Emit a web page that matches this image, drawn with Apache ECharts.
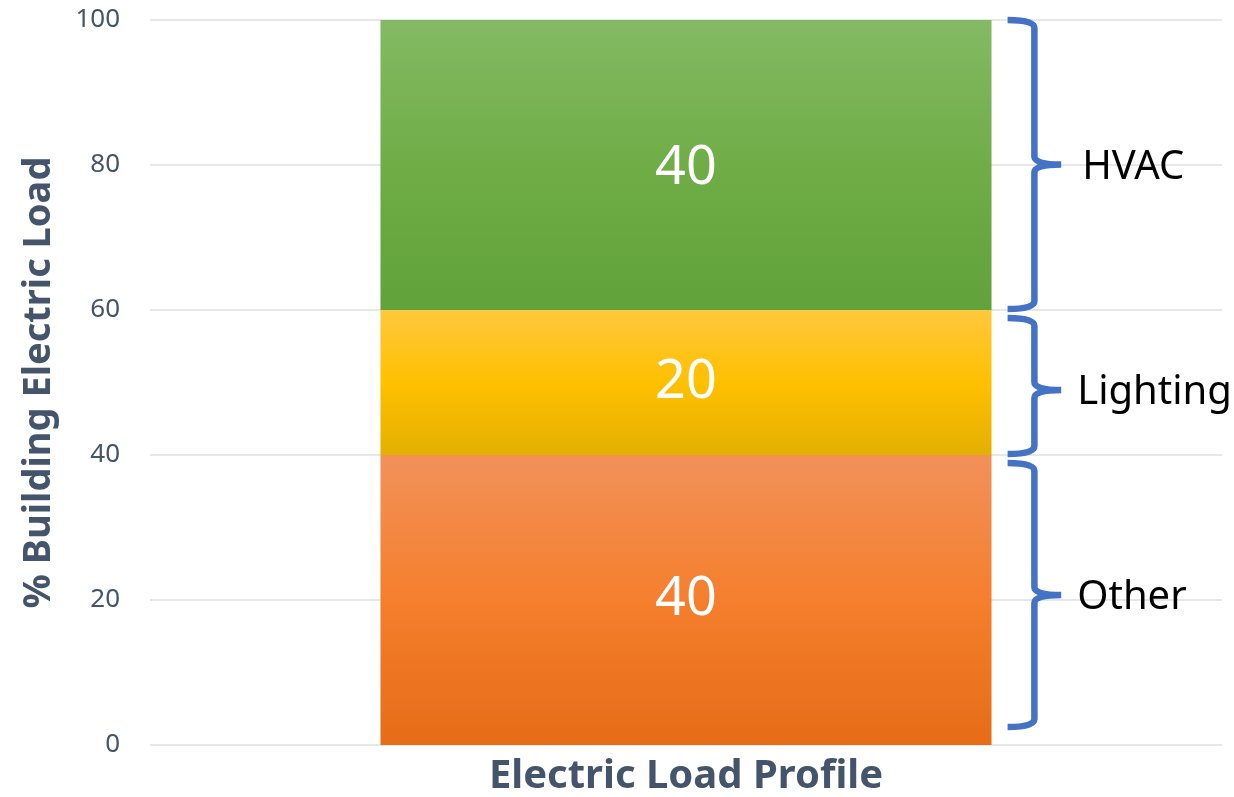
<!DOCTYPE html>
<html>
<head>
<meta charset="utf-8">
<title>Electric Load Profile</title>
<script src="https://cdn.jsdelivr.net/npm/echarts@6/dist/echarts.min.js"></script>
<style>
  html, body { margin: 0; padding: 0; background: #fff; }
  #chart { width: 1234px; height: 797px; }
</style>
</head>
<body>
<div id="chart"></div>
<script>
// 数据
const categories = ['Electric Load Profile'];
const segmentNames = ['Other', 'Lighting', 'HVAC'];
const otherValues = [40];
const lightingValues = [20];
const hvacValues = [40];
const yTicks = [0, 20, 40, 60, 80, 100];

// 渐变颜色 (上, 中, 下)
const segmentColors = {
    Other: ['#F19159', '#F57F2D', '#E66C17'],
    Lighting: ['#FFC83D', '#FFC000', '#E3B000'],
    HVAC: ['#83BA63', '#70AD47', '#61A23A']
};

function gradient(c) {
    return new echarts.graphic.LinearGradient(0, 0, 0, 1, [
        { offset: 0, color: c[0] },
        { offset: 0.5, color: c[1] },
        { offset: 1, color: c[2] }
    ]);
}

// 括号的区间 (由堆叠值累加得到)
const segmentValues = [otherValues, lightingValues, hvacValues];
const bracketData = [];
let base = 0;
segmentValues.forEach((vals, i) => {
    bracketData.push([0, base, base + vals[0], segmentNames[i]]);
    base += vals[0];
});

const chart = echarts.init(document.getElementById('chart'));

function barSeries(name, values) {
    return {
        name: name,
        type: 'bar',
        stack: 'load',
        barWidth: '57%',
        data: values,
        itemStyle: { color: gradient(segmentColors[name]) },
        label: {
            show: true,
            position: 'inside',
            color: '#fff',
            fontSize: 54,
            fontFamily: 'Noto Sans',
            offset: [0, name === 'HVAC' ? 4 : 0]
        }
    };
}

// 括号的上下留白 (像素)
const bracketInsetTop = [8, 8, 0];
const bracketInsetBottom = [18, 1, 1];

function renderBracket(params, api) {
    const i = params.dataIndex;
    const band = api.size([1, 0])[0];
    const c = api.coord([api.value(0), api.value(1)]);
    const top = api.coord([api.value(0), api.value(2)])[1];
    const yTop = top + bracketInsetTop[i];
    const yBot = c[1] - bracketInsetBottom[i];
    const yMid = (yTop + yBot) / 2 + (i === 1 ? 4 : 0);
    const xL = c[0] + band * 0.30;
    const xV = c[0] + band * 0.325;
    const xM = c[0] + band * 0.35;
    const r = 8;
    const d = [
        'M', xL, yTop,
        'Q', xV, yTop, xV, yTop + r,
        'L', xV, yMid - r,
        'Q', xV, yMid, xM, yMid,
        'Q', xV, yMid, xV, yMid + r,
        'L', xV, yBot - r,
        'Q', xV, yBot, xL, yBot
    ].join(' ');
    return {
        type: 'group',
        children: [
            {
                type: 'path',
                shape: { pathData: d },
                style: { fill: null, stroke: '#4472C4', lineWidth: 6.5 }
            },
            {
                type: 'text',
                x: xM + 16 + (i === 2 ? 5 : 0),
                y: yMid + 3,
                style: {
                    text: api.value(3),
                    fill: '#000',
                    font: '40px "Noto Sans"',
                    align: 'left',
                    verticalAlign: 'middle'
                }
            }
        ]
    };
}

const option = {
    animation: false,
    grid: { left: 150, right: 12, top: 20, bottom: 52, outerBoundsMode: 'none' },
    xAxis: {
        type: 'category',
        data: categories,
        axisLine: { show: false },
        axisTick: { show: false },
        axisLabel: { show: false },
        name: 'Electric Load Profile',
        nameLocation: 'middle',
        nameGap: 12,
        nameTextStyle: { fontSize: 40, fontWeight: 'bold', color: '#44546A', fontFamily: 'Noto Sans' }
    },
    yAxis: {
        type: 'value',
        min: yTicks[0],
        max: yTicks[yTicks.length - 1],
        interval: yTicks[1] - yTicks[0],
        axisLine: { show: false },
        axisTick: { show: false },
        axisLabel: { fontSize: 26, color: '#44546A', margin: 30, fontFamily: 'Noto Sans' },
        splitLine: { lineStyle: { color: '#DCDFE5', width: 1.5 } },
        name: '% Building Electric Load',
        nameLocation: 'middle',
        nameGap: 92,
        nameTextStyle: { fontSize: 38, fontWeight: 'bold', color: '#44546A', fontFamily: 'Noto Sans' }
    },
    series: [
        barSeries('Other', otherValues),
        barSeries('Lighting', lightingValues),
        barSeries('HVAC', hvacValues),
        {
            type: 'custom',
            renderItem: renderBracket,
            data: bracketData,
            encode: { x: 0, y: [1, 2] },
            clip: false,
            z: 5
        }
    ]
};

chart.setOption(option);
window.addEventListener('resize', function() { chart.resize(); });
</script>
</body>
</html>
